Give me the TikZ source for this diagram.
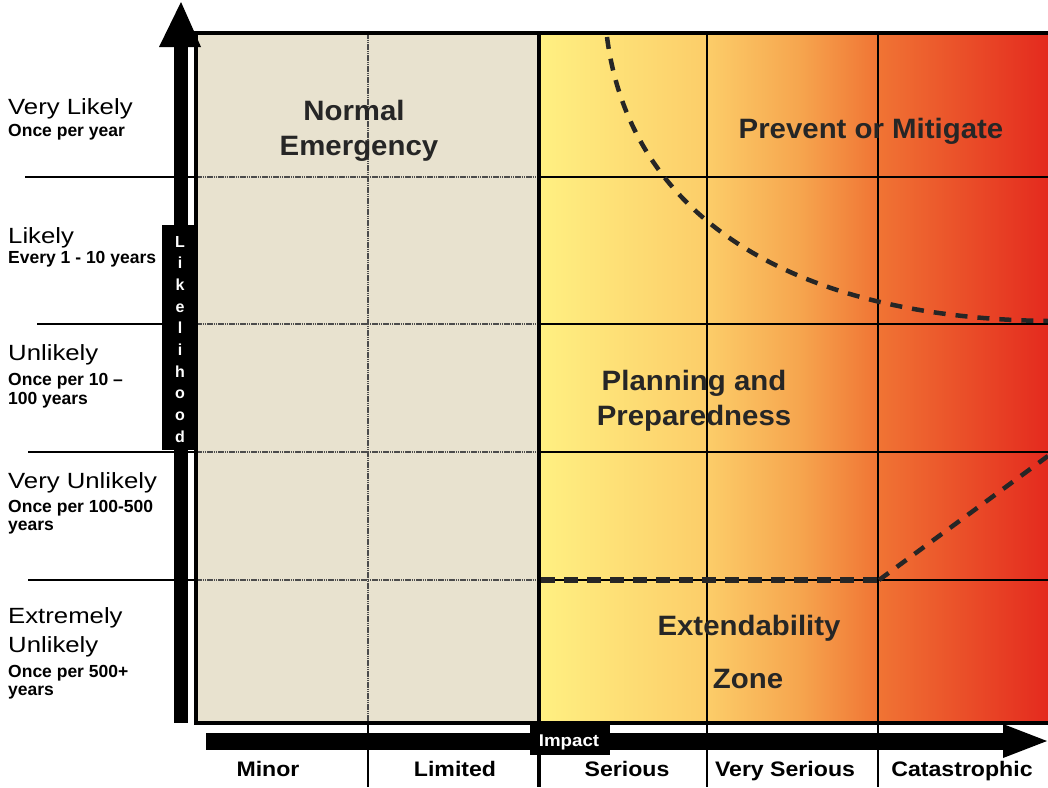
\documentclass[tikz,border=0pt]{standalone}
\usepackage{fontspec}
\setmainfont{Liberation Sans}
\newfontfamily\lblfont[FakeStretch=1.17]{Liberation Sans}
\newfontfamily\bigfont[FakeStretch=1.05]{Liberation Sans}
\newfontfamily\axfont[FakeStretch=1.1]{Liberation Sans}
\definecolor{beige}{RGB}{232,226,207}
\definecolor{g0}{RGB}{255,240,130}
\definecolor{g1}{RGB}{252,205,105}
\definecolor{g2}{RGB}{246,165,78}
\definecolor{g3}{RGB}{240,116,52}
\definecolor{g4}{RGB}{228,42,30}
\begin{document}
\begin{tikzpicture}[x=1pt,y=-1pt,
  lvl/.style={anchor=base west,inner sep=0,font=\lblfont\fontsize{22}{24}\selectfont},
  sub/.style={anchor=base west,inner sep=0,font=\bfseries\fontsize{17.5}{19}\selectfont},
  zone/.style={anchor=base,inner sep=0,text=black!85,font=\bigfont\bfseries\fontsize{28}{30}\selectfont},
  cat/.style={anchor=base,inner sep=0,font=\axfont\bfseries\fontsize{21}{23}\selectfont},
  wlet/.style={anchor=base,inner sep=0,text=white,font=\bfseries\fontsize{16}{18}\selectfont},
  gridline/.style={line width=2pt},
  softline/.style={line width=2pt,color=black!70,dash pattern=on 1.5pt off 0.7pt},
  border/.style={line width=3.5pt},
  riskline/.style={line width=4.5pt,dash pattern=on 12pt off 10pt,color=black!85},
  ]
\fill[white] (0,0) rectangle (1048,787);
\useasboundingbox (0,0) rectangle (1048,787);
% regions
\fill[beige] (196,33) rectangle (539,723);
\shade[left color=g0,right color=g1] (539,33) rectangle (707.5,723);
\shade[left color=g1,right color=g2] (707,33) rectangle (800.5,723);
\shade[left color=g2,right color=g3] (800,33) rectangle (878.5,723);
\shade[left color=g3,right color=g4] (878,33) rectangle (1048,723);
% row lines (outside and in the coloured zone)
\foreach \xa/\y in {25/177,37/324,28/452,28/580} {
  \draw[gridline] (\xa,\y) -- (196,\y);
  \draw[softline] (196,\y) -- (539,\y);
  \draw[gridline] (539,\y) -- (1048,\y);
}
% column lines
\draw[softline] (368,33) -- (368,723);
\draw[gridline] (368,723) -- (368,787);
\foreach \x in {707,878} \draw[gridline] (\x,33) -- (\x,787);
\draw[border] (539,33) -- (539,787);
% border
\draw[border] (1048,33) -- (196,33) -- (196,723) -- (1048,723);
% vertical axis arrow
\fill[black] (174,723) rectangle (188,46);
\fill[black] (159,47) -- (201,47) -- (181,2) -- cycle;
% likelihood label
\fill[black] (162,225) rectangle (198,450);
\foreach \c [count=\i] in {L,i,k,e,l,i,h,o,o,d}
  \node[wlet] (lk\i) at (180,{247+21.67*(\i-1)}) {\c};
% horizontal axis arrow
\fill[black] (206,733) rectangle (1004,750);
\fill[black] (1003,724) -- (1003,758) -- (1047,741) -- cycle;
\fill[black] (530,725) rectangle (610,755);
\node[anchor=base,inner sep=0,text=white,font=\axfont\bfseries\fontsize{17}{19}\selectfont] (impact) at (569,746) {Impact};
% dashed boundaries
\coordinate (c0) at (607,37);
\coordinate (c1) at (1048,321);
\draw[riskline] (c0) .. controls (630,215) and (790,318) .. (c1);
\coordinate (e0) at (541,580);
\coordinate (e1) at (879,580);
\coordinate (e2) at (1048,456);
\draw[riskline,line width=6pt,dash pattern=on 14pt off 9pt] (e0) -- (e1);
\draw[riskline] (e1) -- (e2);
% zone labels
\node[zone] (n1) at (354,120) {Normal};
\node[zone] (n2) at (359,155) {Emergency};
\node[zone] (pm) at (871,138) {Prevent or Mitigate};
\node[zone] (pp1) at (694,390) {Planning and};
\node[zone] (pp2) at (694,425) {Preparedness};
\node[zone] (ez1) at (749,635) {Extendability};
\node[zone] (ez2) at (748,688) {Zone};
% likelihood levels
\node[lvl] (vl) at (8,114) {Very Likely};
\node[sub] (vls) at (8,136) {Once per year};
\node[lvl] (l) at (8,243) {Likely};
\node[sub] (ls) at (8,263) {Every 1 - 10 years};
\node[lvl] (u) at (8,360) {Unlikely};
\node[sub] (us1) at (8,385) {Once per 10 --};
\node[sub] (us2) at (8,404) {100 years};
\node[lvl] (vu) at (8,488) {Very Unlikely};
\node[sub] (vus1) at (8,512) {Once per 100-500};
\node[sub] (vus2) at (8,530) {years};
\node[lvl] (eu1) at (8,623) {Extremely};
\node[lvl] (eu2) at (8,652) {Unlikely};
\node[sub] (eus1) at (8,677) {Once per 500+};
\node[sub] (eus2) at (8,695) {years};
% impact categories
\node[cat] (minor) at (268,776) {Minor};
\node[cat] (limited) at (455,776) {Limited};
\node[cat] (serious) at (627,776) {Serious};
\node[cat] (vserious) at (785,776) {Very Serious};
\node[cat] (catas) at (962,776) {Catastrophic};
\end{tikzpicture}
\end{document}
